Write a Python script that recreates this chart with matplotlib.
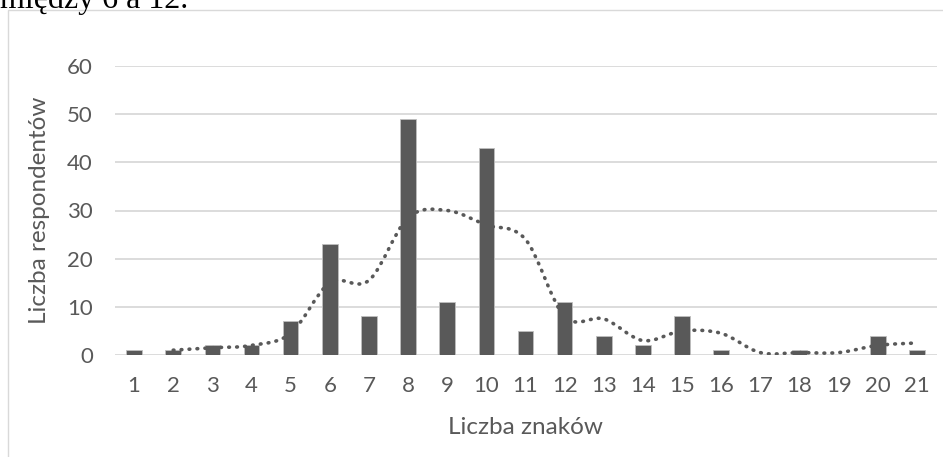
import matplotlib
matplotlib.use("Agg")
import matplotlib.pyplot as plt
from matplotlib.path import Path
from matplotlib.patches import PathPatch, Rectangle

# Number of characters (categories) and respondent counts
znaki = list(range(1, 22))
respondenci = [1, 1, 2, 2, 7, 23, 8, 49, 11, 43, 5, 11, 4, 2, 8, 1, 0, 1, 0, 4, 1]

# Two-period moving average trendline (starts at the second category)
trend_x = list(range(2, 22))
trend_y = [1, 1.5, 2, 4.5, 15, 15.5, 28.5, 30, 27, 24, 8, 7.5, 3, 5, 4.5,
           0.5, 0.5, 0.5, 2, 2.5]

y_ticks = [0, 10, 20, 30, 40, 50, 60]

TEXT = "#595959"
GRID = "#d9d9d9"
BAR = "#595959"

plt.rcParams["font.family"] = ["Lato", "DejaVu Sans"]

fig = plt.figure(figsize=(9.43, 4.57), dpi=100)

# Outer chart frame
fig.patches.append(Rectangle((8 / 943, -0.05), 1.2, 1 - 10 / 457 + 0.05,
                             transform=fig.transFigure, fill=False,
                             edgecolor=GRID, linewidth=1.0))

# Cut-off line of surrounding document text
fig.text(0.0, 1 - 8 / 457, "między 6 a 12.", family="Liberation Serif",
         fontsize=23, color="black", ha="left", va="baseline")

ax = fig.add_axes([114.5 / 943, 102 / 457, 822 / 943, 289 / 457])
ax.set_xlim(0.5, 21.5)
ax.set_ylim(0, 60)

for s in ax.spines.values():
    s.set_visible(False)

ax.set_yticks(y_ticks)
ax.yaxis.grid(True, color=GRID, linewidth=1.3)
ax.set_axisbelow(True)
ax.set_xticks(znaki)
ax.set_xticklabels([str(z) for z in znaki])
ax.tick_params(axis="both", length=0, labelsize=16, labelcolor=TEXT)
ax.tick_params(axis="y", pad=15.5)
ax.tick_params(axis="x", pad=15)

ax.bar(znaki, respondenci, width=0.4, color=BAR, edgecolor="#bfbfbf",
       linewidth=0.6, zorder=2)

# Smooth trendline through the moving-average points (Catmull-Rom as Bezier)
pts = list(zip(trend_x, trend_y))
n = len(pts)
verts = [pts[0]]
codes = [Path.MOVETO]
for i in range(n - 1):
    p0 = pts[i - 1] if i > 0 else pts[i]
    p1 = pts[i]
    p2 = pts[i + 1]
    p3 = pts[i + 2] if i + 2 < n else pts[i + 1]
    c1 = (p1[0] + (p2[0] - p0[0]) / 6, p1[1] + (p2[1] - p0[1]) / 6)
    c2 = (p2[0] - (p3[0] - p1[0]) / 6, p2[1] - (p3[1] - p1[1]) / 6)
    verts += [c1, c2, p2]
    codes += [Path.CURVE4] * 3
trend = PathPatch(Path(verts, codes), fill=False, edgecolor=TEXT,
                  linewidth=2.6, linestyle=(0, (0.2, 2.0)),
                  capstyle="round", zorder=3)
ax.add_patch(trend)

ax.set_xlabel("Liczba znaków", fontsize=17.5, color=TEXT)
ax.set_ylabel("Liczba respondentów", fontsize=17.5, color=TEXT)
ax.yaxis.set_label_coords(-(114.5 - 40) / 822, 0.5)
ax.xaxis.set_label_coords(0.5, -(427 - 355) / 289)
ax.xaxis.label.set_va("center")
ax.yaxis.label.set_va("center")

fig.savefig("out.png", dpi=100)
